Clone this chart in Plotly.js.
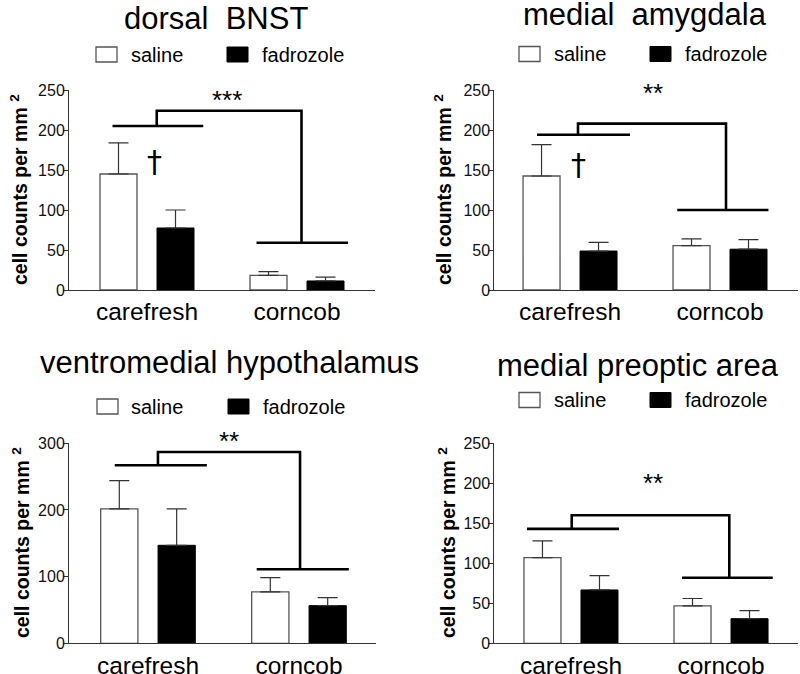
<!DOCTYPE html>
<html>
<head>
<meta charset="utf-8">
<script src="https://cdn.plot.ly/plotly-3.0.1.min.js"></script>
<style>html,body{margin:0;padding:0;background:#fff;}#chart{width:800px;height:674px;}</style>
</head>
<body>
<div id="chart"></div>
<script>
// ---------- data ----------
const categories = ['carefresh', 'corncob'];
const seriesNames = ['saline', 'fadrozole'];
const panelTitles = ['dorsal\u00A0\u00A0BNST', 'medial\u00A0\u00A0amygdala', 'ventromedial hypothalamus', 'medial preoptic area'];
const yAxisTitle = 'cell counts per mm\u00A0<sup>2</sup>';

// dorsal BNST
const bnstSaline = [145, 18.3];
const bnstSalineErr = [39, 4.7];
const bnstFadrozole = [77.5, 11.3];
const bnstFadrozoleErr = [22.5, 4.7];
// medial amygdala
const meaSaline = [142.5, 55.4];
const meaSalineErr = [39.2, 8.6];
const meaFadrozole = [48.7, 51];
const meaFadrozoleErr = [10.9, 12];
// ventromedial hypothalamus
const vmhSaline = [201.5, 77];
const vmhSalineErr = [42.5, 21.5];
const vmhFadrozole = [147, 56.5];
const vmhFadrozoleErr = [54.5, 12];
// medial preoptic area
const mpoaSaline = [107, 46.7];
const mpoaSalineErr = [21, 9.3];
const mpoaFadrozole = [66.7, 30.8];
const mpoaFadrozoleErr = [17.8, 10];

// significance brackets: [carefresh line, top line, corncob line] heights
const bnstBracket = [205, 224, 59];
const meaBracket = [194, 208, 100];
const vmhBracket = [267, 287, 111];
const mpoaBracket = [143, 160, 82];
const sigLabels = ['***', '**', '**', '**'];
const dagger = '\u2020';

// ---------- drawing ----------
const FONT = 'Liberation Sans, Arial, Helvetica, sans-serif';
const W = 800, H = 674;
const px = v => v / W;
const py = v => 1 - v / H;

const panels = [
  {sal: bnstSaline, salE: bnstSalineErr, fad: bnstFadrozole, fadE: bnstFadrozoleErr, br: bnstBracket,
   ymax: 250, dtick: 50, xd: [69, 375], yd: [290, 90], xr: [-0.52, 1.52],
   brX: {cl: -0.23, cr: 0.375, stem: 0.065, drop: 1.03, nl: 0.73, nr: 1.34},
   star: [0.533, 238], dag: [0.05, 160],
   title: [216, 18], leg: {y: 54.5, b1: 96, t1: 130, b2: 227, t2: 261}, yt: [19, 190]},
  {sal: meaSaline, salE: meaSalineErr, fad: meaFadrozole, fadE: meaFadrozoleErr, br: meaBracket,
   ymax: 250, dtick: 50, xd: [494.3, 798], yd: [290, 90], xr: [-0.505, 1.52],
   brX: {cl: -0.22, cr: 0.4, stem: 0.053, drop: 1.04, nl: 0.715, nr: 1.323},
   star: [0.553, 246], dag: [0.055, 157],
   title: [645, 14], leg: {y: 54, b1: 519, t1: 553, b2: 650, t2: 684}, yt: [443, 190]},
  {sal: vmhSaline, salE: vmhSalineErr, fad: vmhFadrozole, fadE: vmhFadrozoleErr, br: vmhBracket,
   ymax: 300, dtick: 100, xd: [69, 375.7], yd: [643.3, 443.3], xr: [-0.523, 1.508],
   brX: {cl: -0.22, cr: 0.39, stem: 0.066, drop: 1.007, nl: 0.72, nr: 1.33},
   star: [0.536, 303], dag: null,
   title: [229, 362], leg: {y: 406.5, b1: 97, t1: 130, b2: 228, t2: 262}, yt: [21, 543]},
  {sal: mpoaSaline, salE: mpoaSalineErr, fad: mpoaFadrozole, fadE: mpoaFadrozoleErr, br: mpoaBracket,
   ymax: 250, dtick: 50, xd: [494.3, 798], yd: [643.3, 443.3], xr: [-0.511, 1.513],
   brX: {cl: -0.293, cr: 0.32, stem: 0.005, drop: 1.055, nl: 0.74, nr: 1.345},
   star: [0.547, 201], dag: null,
   title: [638, 365], leg: {y: 400, b1: 519, t1: 553, b2: 650, t2: 684}, yt: [447, 543]}
];

const xIdx = categories.map((c, i) => i);
const traces = [];
const shapes = [];
const annotations = [];
const layout = {
  width: W, height: H,
  margin: {l: 0, r: 0, t: 0, b: 0},
  paper_bgcolor: '#fff', plot_bgcolor: '#fff',
  showlegend: false,
  barmode: 'group', bargap: 0.24, bargroupgap: 0.351,
  font: {family: FONT, color: '#000'},
  hovermode: false
};

panels.forEach((p, i) => {
  const n = i === 0 ? '' : String(i + 1);
  const xa = 'x' + n, ya = 'y' + n;
  // data -> paper conversion through the panel's axis domain and range (used for marks that sit above the range)
  const xdom = [px(p.xd[0]), px(p.xd[1])], ydom = [py(p.yd[0]), py(p.yd[1])];
  const toPaperX = v => xdom[0] + (v - p.xr[0]) / (p.xr[1] - p.xr[0]) * (xdom[1] - xdom[0]);
  const toPaperY = v => ydom[0] + v / p.ymax * (ydom[1] - ydom[0]);

  const errStyle = {type: 'data', symmetric: false, arrayminus: [0, 0], color: '#333', thickness: 1.2, width: 10};
  traces.push({type: 'bar', name: seriesNames[0], x: xIdx, y: p.sal, xaxis: xa, yaxis: ya,
    marker: {color: '#ffffff', line: {color: '#555', width: 1.3}},
    error_y: Object.assign({array: p.salE}, errStyle), hoverinfo: 'skip'});
  traces.push({type: 'bar', name: seriesNames[1], x: xIdx, y: p.fad, xaxis: xa, yaxis: ya,
    marker: {color: '#000000', line: {color: '#000', width: 1}},
    error_y: Object.assign({array: p.fadE}, errStyle), hoverinfo: 'skip'});
  const b = p.brX, h = p.br;
  traces.push({type: 'scatter', mode: 'lines', xaxis: xa, yaxis: ya, hoverinfo: 'skip',
    x: [b.cl, b.cr, null, b.stem, b.stem, b.drop, b.drop, null, b.nl, b.nr],
    y: [h[0], h[0], null, h[0], h[1], h[1], h[2], null, h[2], h[2]],
    line: {color: '#000', width: 2.6}, connectgaps: false});

  layout['xaxis' + n] = {domain: xdom, range: p.xr, anchor: ya,
    tickvals: xIdx, ticktext: categories, ticks: '', showline: true, linecolor: '#333', linewidth: 1,
    showgrid: false, zeroline: false, fixedrange: true,
    tickfont: {family: FONT, size: 24.5, color: '#000'}};
  layout['yaxis' + n] = {domain: ydom, range: [0, p.ymax], anchor: xa,
    tick0: 0, dtick: p.dtick, ticks: 'outside', ticklen: 5, tickwidth: 1, tickcolor: '#333',
    ticklabelstandoff: -5,
    showline: true, linecolor: '#333', linewidth: 1, showgrid: false, zeroline: false, fixedrange: true,
    tickfont: {family: FONT, size: 16, color: '#111'}};

  annotations.push({xref: 'paper', yref: 'paper', x: toPaperX(p.star[0]), y: toPaperY(p.star[1]), text: sigLabels[i],
    showarrow: false, font: {family: FONT, size: 26, color: '#000'}, xanchor: 'center', yanchor: 'middle'});
  if (p.dag) annotations.push({xref: 'paper', yref: 'paper', x: toPaperX(p.dag[0]), y: toPaperY(p.dag[1]), text: dagger,
    showarrow: false, font: {family: 'DejaVu Sans, ' + FONT, size: 30, color: '#000'}, xanchor: 'center', yanchor: 'middle'});

  annotations.push({xref: 'paper', yref: 'paper', x: px(p.title[0]), y: py(p.title[1]), text: panelTitles[i],
    showarrow: false, xanchor: 'center', yanchor: 'middle', font: {family: FONT, size: 31, color: '#000'}});

  annotations.push({xref: 'paper', yref: 'paper', x: px(p.yt[0]), y: py(p.yt[1]), text: '<b>' + yAxisTitle + '</b>',
    showarrow: false, textangle: -90, xanchor: 'center', yanchor: 'middle',
    font: {family: FONT, size: 19.5, color: '#000'}});

  const L = p.leg;
  shapes.push({type: 'rect', xref: 'paper', yref: 'paper', x0: px(L.b1), x1: px(L.b1 + 21), y0: py(L.y - 7.5), y1: py(L.y + 7.5),
    fillcolor: '#fff', line: {color: '#555', width: 1.3}});
  shapes.push({type: 'rect', xref: 'paper', yref: 'paper', x0: px(L.b2), x1: px(L.b2 + 21), y0: py(L.y - 7.5), y1: py(L.y + 7.5),
    fillcolor: '#000', line: {color: '#000', width: 1}});
  annotations.push({xref: 'paper', yref: 'paper', x: px(L.t1), y: py(L.y), text: seriesNames[0], showarrow: false,
    xanchor: 'left', yanchor: 'middle', borderpad: 0, font: {family: FONT, size: 20, color: '#000'}});
  annotations.push({xref: 'paper', yref: 'paper', x: px(L.t2), y: py(L.y), text: seriesNames[1], showarrow: false,
    xanchor: 'left', yanchor: 'middle', borderpad: 0, font: {family: FONT, size: 20, color: '#000'}});
});

layout.shapes = shapes;
layout.annotations = annotations;

Plotly.newPlot('chart', traces, layout, {displayModeBar: false, staticPlot: true});
</script>
</body>
</html>
